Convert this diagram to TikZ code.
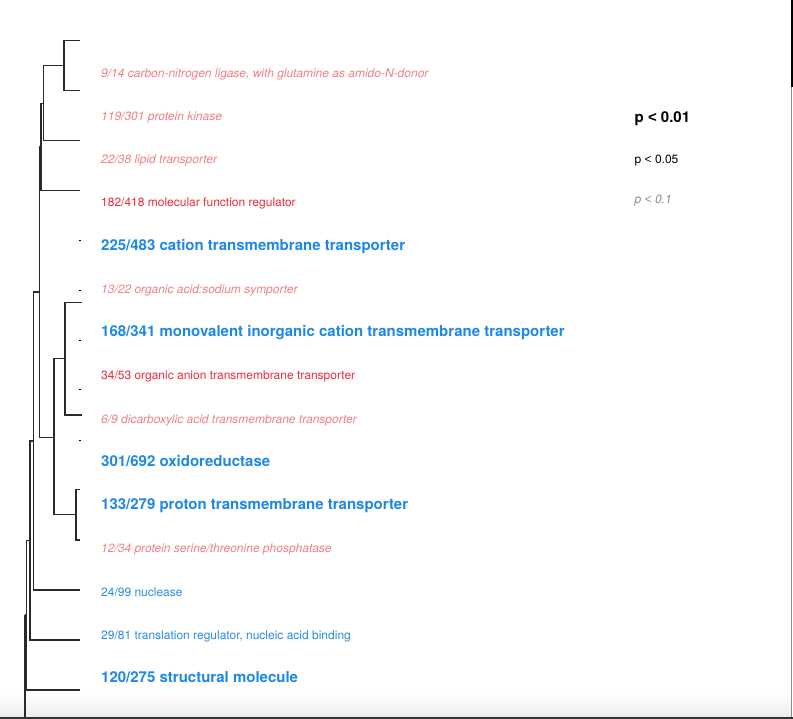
\documentclass[tikz,border=0pt]{standalone}
\usepackage{fontspec}
\setmainfont{TeX Gyre Heros}
\newfontfamily\lessfont{Liberation Sans}
\newcommand{\lessthan}{{\lessfont<}}
\definecolor{hiblue}{HTML}{1E88E5}
\definecolor{loblue}{HTML}{2A8CE2}
\definecolor{lored}{HTML}{EE2A3A}
\definecolor{weakred}{HTML}{F08084}
\definecolor{legendgrey}{HTML}{8C8C8C}
\definecolor{treeline}{HTML}{2A2A2A}
\begin{document}
\begin{tikzpicture}[x=1pt,y=-1pt,
  txt/.style={anchor=base west, inner sep=0pt, font=\fontsize{12}{14}\selectfont},
  strongblue/.style={anchor=base west, inner sep=0pt, font=\fontsize{15}{18}\selectfont\bfseries, text=hiblue},
  midblue/.style={txt, text=loblue},
  midred/.style={txt, text=lored},
  faintred/.style={txt, font=\fontsize{12}{14}\selectfont\itshape, text=weakred},
  branch/.style={draw=treeline, line width=1.1pt},
  stub/.style={draw=black, line width=1pt},
]
% page
\fill[white] (0,0) rectangle (793,719);
\shade[top color=white, bottom color=black!7] (0,692) rectangle (791,717);
\useasboundingbox (0,0) rectangle (793,719);

% window edges
\draw[black!45, line width=1pt] (791,0) -- (791,717);
\draw[black, line width=2.4pt] (791.8,0) -- (791.8,87);
\draw[black!80, line width=1.6pt] (0,717.8) -- (793,717.8);

% ---- dendrogram ----
% leaf ends
\coordinate (l1) at (80,40.7);
\coordinate (l2) at (80,90.7);
\coordinate (l3) at (80,140.7);
\coordinate (l4) at (80,190.7);
\coordinate (b1) at (81.7,302.7);
\coordinate (b2) at (81.7,415);
\coordinate (l10) at (80,489.3);
\coordinate (l11) at (80,540);
\coordinate (l12) at (80,590);
\coordinate (l13) at (80,640);
\coordinate (l14) at (80,690);
% inner nodes
\coordinate (nA) at (64,65.7);
\coordinate (nB) at (43.3,103.2);
\coordinate (nC) at (41,146.7);
\coordinate (nP) at (65,358.8);
\coordinate (nQ) at (76,514.7);
\coordinate (nR) at (54,437.3);
\coordinate (nD) at (39.5,292);
\coordinate (nE) at (33.3,441);
\coordinate (nF) at (30,540.5);
\coordinate (nG) at (26.5,615);
\coordinate (rt) at (25,615);
\coordinate (rtEnd) at (25,717);

\draw[branch] (nA) |- (l1) (nA) |- (l2);
\draw[branch] (nB) |- (nA) (nB) |- (l3);
\draw[branch] (nC) |- (nB) (nC) |- (l4);
\draw[branch] (nP) |- (b1) (nP) |- (b2);
\draw[branch] (nQ) |- (l10) (nQ) |- (l11);
\draw[branch] (nR) |- (nP) (nR) |- (nQ);
\draw[branch] (nD) |- (nC) (nD) |- (nR);
\draw[branch] (nE) |- (nD) (nE) |- (l12);
\draw[branch] (nF) |- (nE) (nF) |- (l13);
\draw[branch] (nG) |- (nF) (nG) |- (l14);
\draw[branch] (rt) -- (nG);
\draw[branch] (rt) -- (rtEnd);

% zero-length leaf stubs
\foreach \ty [count=\k] in {240.7,290.7,340.7,390,440}{
  \coordinate (t\k) at (78.6,\ty);
  \coordinate (u\k) at (81.2,\ty);
  \draw[stub] (t\k) -- (u\k);
}

% ---- term labels ----
\node[faintred]   (g1)  at (101,77.6)  {9/14 carbon-nitrogen ligase, with glutamine as amido-N-donor};
\node[faintred]   (g2)  at (101,120.3) {119/301 protein kinase};
\node[faintred]   (g3)  at (101,163.3) {22/38 lipid transporter};
\node[midred]     (g4)  at (101,206.6) {182/418 molecular function regulator};
\node[strongblue] (g5)  at (101,250.4) {225/483 cation transmembrane transporter};
\node[faintred]   (g6)  at (101,293.3) {13/22 organic acid:sodium symporter};
\node[strongblue] (g7)  at (101,336.4) {168/341 monovalent inorganic cation transmembrane transporter};
\node[midred]     (g8)  at (101,379.3) {34/53 organic anion transmembrane transporter};
\node[faintred]   (g9)  at (101,423.3) {6/9 dicarboxylic acid transmembrane transporter};
\node[strongblue] (g10) at (101,466.4) {301/692 oxidoreductase};
\node[strongblue] (g11) at (101,509.4) {133/279 proton transmembrane transporter};
\node[faintred]   (g12) at (101,552.6) {12/34 protein serine/threonine phosphatase};
\node[midblue]    (g13) at (101,596)   {24/99 nuclease};
\node[midblue]    (g14) at (101,639.3) {29/81 translation regulator, nucleic acid binding};
\node[strongblue] (g15) at (101,682.1) {120/275 structural molecule};

% ---- legend ----
\node[anchor=base west, inner sep=0pt, font=\fontsize{15}{18}\selectfont\bfseries] (k1) at (634.5,122.1) {p \lessthan{} 0.01};
\node[txt] (k2) at (634.5,163.6) {p \lessthan{} 0.05};
\node[txt, font=\fontsize{12}{14}\selectfont\itshape, text=legendgrey] (k3) at (634.5,203.6) {p \lessthan{} 0.1};
\end{tikzpicture}
\end{document}
